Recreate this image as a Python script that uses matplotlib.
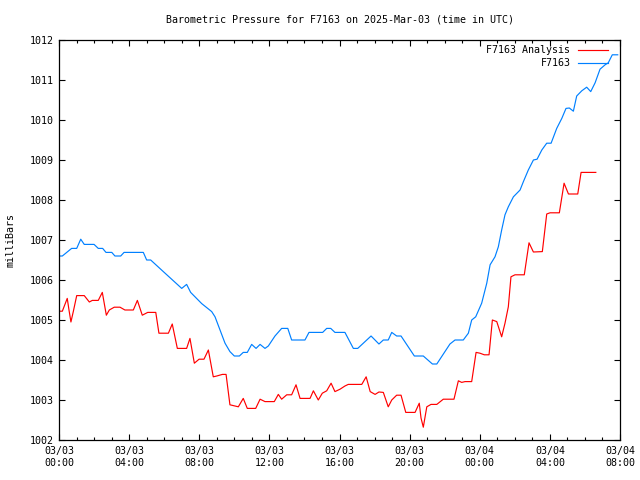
import matplotlib
matplotlib.use("Agg")
import matplotlib.pyplot as plt
import matplotlib.dates as mdates
import pandas as pd

# hours after 2025-03-03 00:00 UTC, pressure in mb
station_hours = [0.0, 0.19, 0.72, 1.01, 1.24, 1.44, 2.00, 2.24, 2.49, 2.68, 3.01, 3.19,
                 3.52, 3.71, 4.81, 5.00, 5.23, 6.00, 7.00, 7.28, 7.51, 8.14, 8.71, 8.90,
                 9.47, 9.75, 10.0, 10.29, 10.51, 10.74, 10.99, 11.24, 11.47, 11.75, 11.94,
                 12.32, 12.70, 13.05, 13.27, 14.03, 14.26, 15.04, 15.27, 15.50, 15.74,
                 16.31, 16.79, 17.04, 17.80, 18.25, 18.50, 18.78, 18.98, 19.26, 19.51,
                 20.27, 20.78, 21.30, 21.55, 22.30, 22.59, 23.06, 23.35, 23.54, 23.77,
                 24.11, 24.40, 24.59, 24.87, 25.06, 25.25, 25.44, 25.63, 25.92, 26.30,
                 26.49, 26.77, 27.06, 27.27, 27.54, 27.82, 28.07, 28.39, 28.68, 28.92,
                 29.11, 29.34, 29.53, 29.82, 30.10, 30.33, 30.58, 30.86, 31.15, 31.33,
                 31.56, 31.87]
station_mb = [1006.60, 1006.60, 1006.79, 1006.79, 1007.02, 1006.89, 1006.89, 1006.79,
              1006.79, 1006.69, 1006.69, 1006.60, 1006.60, 1006.69, 1006.69, 1006.50,
              1006.50, 1006.19, 1005.79, 1005.89, 1005.69, 1005.41, 1005.21, 1005.08,
              1004.42, 1004.21, 1004.10, 1004.10, 1004.19, 1004.19, 1004.39, 1004.29,
              1004.39, 1004.29, 1004.35, 1004.60, 1004.79, 1004.79, 1004.50, 1004.50,
              1004.69, 1004.69, 1004.79, 1004.79, 1004.69, 1004.69, 1004.29, 1004.29,
              1004.60, 1004.40, 1004.50, 1004.50, 1004.69, 1004.60, 1004.60, 1004.10,
              1004.10, 1003.90, 1003.90, 1004.40, 1004.50, 1004.50, 1004.67, 1005.00,
              1005.08, 1005.42, 1005.92, 1006.38, 1006.58, 1006.83, 1007.25, 1007.63,
              1007.83, 1008.08, 1008.25, 1008.46, 1008.75, 1009.00, 1009.02, 1009.25,
              1009.42, 1009.42, 1009.79, 1010.04, 1010.29, 1010.30, 1010.22, 1010.60,
              1010.73, 1010.82, 1010.71, 1010.93, 1011.27, 1011.38, 1011.43, 1011.63,
              1011.63]

analysis_hours = [0.0, 0.19, 0.47, 0.57, 0.68, 0.82, 1.01, 1.44, 1.73, 1.90, 2.24, 2.47,
                  2.70, 2.87, 3.15, 3.48, 3.76, 4.24, 4.47, 4.75, 5.06, 5.52, 5.70, 6.24,
                  6.46, 6.75, 7.28, 7.47, 7.72, 7.99, 8.27, 8.52, 8.80, 9.00, 9.32, 9.53,
                  9.75, 10.23, 10.51, 10.74, 11.22, 11.47, 11.75, 12.28, 12.51, 12.70,
                  12.99, 13.27, 13.52, 13.75, 14.32, 14.51, 14.79, 15.02, 15.27, 15.52,
                  15.74, 16.03, 16.31, 16.50, 17.27, 17.52, 17.75, 18.03, 18.25, 18.50,
                  18.78, 18.98, 19.26, 19.51, 19.78, 20.31, 20.55, 20.65, 20.78, 20.98,
                  21.22, 21.55, 21.92, 22.53, 22.78, 22.97, 23.16, 23.54, 23.79, 24.01,
                  24.26, 24.53, 24.72, 24.97, 25.25, 25.44, 25.63, 25.78, 26.01, 26.54,
                  26.81, 27.06, 27.57, 27.82, 28.01, 28.54, 28.81, 29.06, 29.59, 29.78,
                  30.62]
analysis_mb = [1005.22, 1005.22, 1005.54, 1005.25, 1004.95, 1005.22, 1005.61, 1005.61,
               1005.45, 1005.49, 1005.49, 1005.69, 1005.12, 1005.25, 1005.32, 1005.32,
               1005.25, 1005.25, 1005.49, 1005.12, 1005.19, 1005.19, 1004.67, 1004.67,
               1004.90, 1004.29, 1004.29, 1004.54, 1003.92, 1004.02, 1004.02, 1004.25,
               1003.58, 1003.60, 1003.64, 1003.64, 1002.88, 1002.83, 1003.04, 1002.79,
               1002.79, 1003.02, 1002.96, 1002.96, 1003.14, 1003.02, 1003.13, 1003.13,
               1003.38, 1003.04, 1003.04, 1003.23, 1003.00, 1003.17, 1003.23, 1003.42,
               1003.21, 1003.27, 1003.35, 1003.39, 1003.39, 1003.58, 1003.21, 1003.14,
               1003.20, 1003.19, 1002.83, 1003.00, 1003.12, 1003.12, 1002.69, 1002.69,
               1002.92, 1002.55, 1002.32, 1002.83, 1002.89, 1002.89, 1003.02, 1003.02,
               1003.48, 1003.44, 1003.46, 1003.46, 1004.19, 1004.17, 1004.13, 1004.13,
               1005.00, 1004.96, 1004.58, 1004.92, 1005.33, 1006.08, 1006.13, 1006.13,
               1006.93, 1006.70, 1006.71, 1007.65, 1007.68, 1007.68, 1008.42, 1008.15,
               1008.15, 1008.69, 1008.69]

start = pd.Timestamp("2025-03-03 00:00")
t_station = start + pd.to_timedelta(station_hours, unit="h")
t_analysis = start + pd.to_timedelta(analysis_hours, unit="h")

plt.rcParams["font.family"] = ["DejaVu Sans Mono"]
plt.rcParams["font.size"] = 7.2

fig = plt.figure(figsize=(6.4, 4.8), dpi=100)
ax = fig.add_axes([59 / 640, 40 / 480, 561 / 640, 400 / 480])

ax.plot(t_analysis, analysis_mb, color="#ff0000", lw=0.85, label="F7163 Analysis")
ax.plot(t_station, station_mb, color="#0080ff", lw=0.85, label="F7163")

ax.set_xlim(start, start + pd.Timedelta(hours=32))
ax.set_ylim(1002, 1012)
ax.xaxis.set_major_locator(mdates.HourLocator(byhour=range(0, 24, 4)))
ax.xaxis.set_minor_locator(mdates.HourLocator())
ax.xaxis.set_major_formatter(mdates.DateFormatter("%m/%d\n%H:%M"))
ax.set_yticks(range(1002, 1013))
ax.tick_params(which="both", direction="in", top=True, right=True, width=0.8,
               labelsize=7.2, colors="black")
ax.tick_params(which="major", length=4.5, pad=4)
ax.tick_params(which="minor", length=2.2)
for lbl in ax.get_xticklabels():
    lbl.set_linespacing(1.35)
for s in ax.spines.values():
    s.set_linewidth(0.9)

ax.set_ylabel("milliBars", fontsize=7.2, labelpad=10)
fig.text(339.5 / 640, 1 - 19 / 480, "Barometric Pressure for F7163 on 2025-Mar-03 (time in UTC)",
         ha="center", va="center", fontsize=7.2)

ax.legend(loc="upper right", bbox_to_anchor=(1 - 7 / 561, 1), frameon=False,
          markerfirst=False, fontsize=7.2, handlelength=3.0, handletextpad=0.7,
          labelspacing=0.3, borderaxespad=0.35, borderpad=0.2)

fig.savefig("out.png", dpi=100)
